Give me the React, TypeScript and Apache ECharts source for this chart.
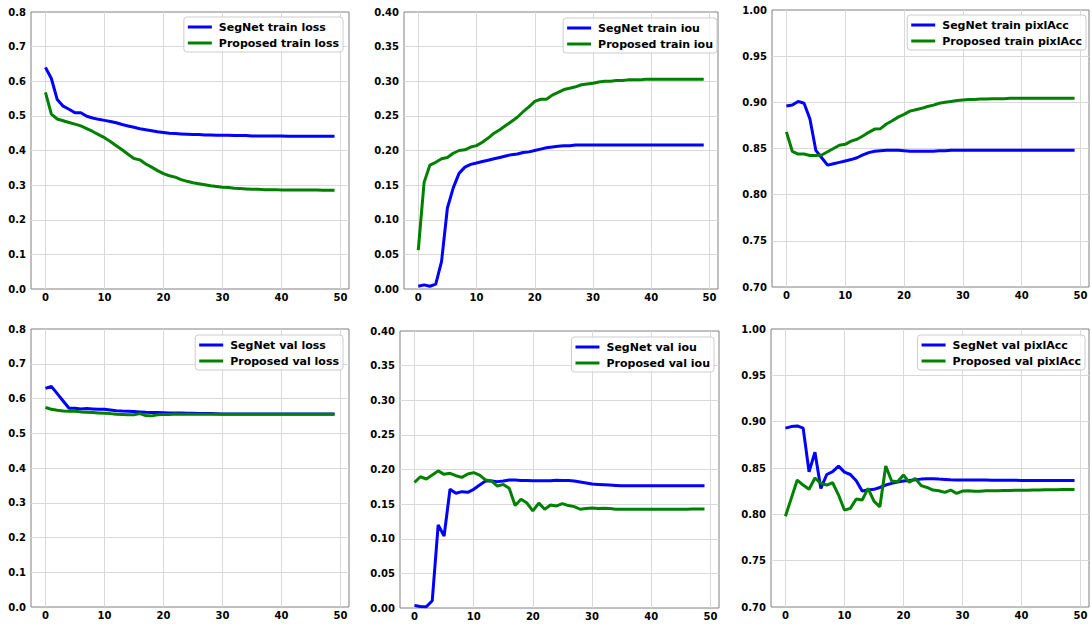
import React, { useEffect, useRef } from 'react';
import * as echarts from 'echarts';

const epochs = [
  0, 1, 2, 3, 4, 5, 6, 7, 8, 9, 10, 11, 12, 13, 14, 15, 16, 17, 18, 19,
  20, 21, 22, 23, 24, 25, 26, 27, 28, 29, 30, 31, 32, 33, 34, 35, 36, 37, 38, 39,
  40, 41, 42, 43, 44, 45, 46, 47, 48, 49,
];

const segTrainLoss = [
  0.640, 0.608, 0.547, 0.528, 0.519, 0.509, 0.509, 0.499, 0.494, 0.490,
  0.487, 0.484, 0.480, 0.475, 0.471, 0.467, 0.463, 0.460, 0.457, 0.454,
  0.452, 0.450, 0.449, 0.448, 0.447, 0.446, 0.446, 0.445, 0.445, 0.444,
  0.444, 0.444, 0.443, 0.443, 0.443, 0.442, 0.442, 0.442, 0.442, 0.442,
  0.442, 0.441, 0.441, 0.441, 0.441, 0.441, 0.441, 0.441, 0.441, 0.441,
];
const propTrainLoss = [
  0.568, 0.505, 0.491, 0.486, 0.481, 0.476, 0.471, 0.463, 0.455, 0.446,
  0.437, 0.426, 0.414, 0.402, 0.389, 0.377, 0.373, 0.361, 0.352, 0.342,
  0.333, 0.327, 0.323, 0.316, 0.311, 0.307, 0.304, 0.301, 0.298, 0.296,
  0.294, 0.293, 0.291, 0.290, 0.289, 0.288, 0.288, 0.287, 0.287, 0.287,
  0.286, 0.286, 0.286, 0.286, 0.286, 0.286, 0.286, 0.285, 0.285, 0.285,
];
const segTrainIou = [
  0.004, 0.006, 0.004, 0.007, 0.040, 0.117, 0.146, 0.167, 0.176, 0.180,
  0.182, 0.184, 0.186, 0.188, 0.190, 0.192, 0.194, 0.195, 0.197, 0.198,
  0.200, 0.202, 0.204, 0.205, 0.206, 0.207, 0.207, 0.208, 0.208, 0.208,
  0.208, 0.208, 0.208, 0.208, 0.208, 0.208, 0.208, 0.208, 0.208, 0.208,
  0.208, 0.208, 0.208, 0.208, 0.208, 0.208, 0.208, 0.208, 0.208, 0.208,
];
const propTrainIou = [
  0.056, 0.154, 0.179, 0.183, 0.188, 0.190, 0.196, 0.200, 0.201, 0.205,
  0.207, 0.212, 0.218, 0.225, 0.230, 0.236, 0.242, 0.248, 0.256, 0.263,
  0.271, 0.274, 0.274, 0.280, 0.284, 0.288, 0.290, 0.292, 0.295, 0.296,
  0.297, 0.299, 0.300, 0.300, 0.301, 0.301, 0.302, 0.302, 0.302, 0.303,
  0.303, 0.303, 0.303, 0.303, 0.303, 0.303, 0.303, 0.303, 0.303, 0.303,
];
const segTrainAcc = [
  0.896, 0.897, 0.901, 0.899, 0.882, 0.848, 0.840, 0.832, 0.8335, 0.835,
  0.8365, 0.838, 0.840, 0.843, 0.8455, 0.847, 0.8475, 0.848, 0.848, 0.848,
  0.8475, 0.847, 0.847, 0.847, 0.847, 0.847, 0.8475, 0.8475, 0.848, 0.848,
  0.848, 0.848, 0.848, 0.848, 0.848, 0.848, 0.848, 0.848, 0.848, 0.848,
  0.848, 0.848, 0.848, 0.848, 0.848, 0.848, 0.848, 0.848, 0.848, 0.848,
];
const propTrainAcc = [
  0.868, 0.847, 0.844, 0.844, 0.8425, 0.8425, 0.843, 0.8465, 0.850, 0.8535,
  0.8545, 0.858, 0.860, 0.8635, 0.8675, 0.871, 0.8715, 0.8765, 0.880, 0.884,
  0.887, 0.8905, 0.892, 0.8935, 0.8955, 0.897, 0.899, 0.900, 0.901, 0.902,
  0.9025, 0.903, 0.903, 0.9035, 0.9035, 0.904, 0.904, 0.904, 0.9045, 0.9045,
  0.9045, 0.9045, 0.9045, 0.9045, 0.9045, 0.9045, 0.9045, 0.9045, 0.9045, 0.9045,
];
const segValLoss = [
  0.629, 0.635, 0.614, 0.593, 0.572, 0.572, 0.570, 0.571, 0.570, 0.569,
  0.569, 0.567, 0.565, 0.564, 0.5635, 0.5625, 0.5615, 0.5605, 0.560, 0.5595,
  0.559, 0.5585, 0.558, 0.558, 0.5575, 0.5575, 0.557, 0.557, 0.5565, 0.556,
  0.5555, 0.5555, 0.5555, 0.5555, 0.5555, 0.5555, 0.5555, 0.5555, 0.5555, 0.5555,
  0.5555, 0.5555, 0.5555, 0.5555, 0.5555, 0.5555, 0.5555, 0.5555, 0.5555, 0.5555,
];
const propValLoss = [
  0.574, 0.569, 0.566, 0.564, 0.563, 0.563, 0.5615, 0.5605, 0.5595, 0.5585,
  0.5575, 0.5565, 0.5545, 0.554, 0.553, 0.553, 0.5565, 0.551, 0.550, 0.553,
  0.554, 0.554, 0.5555, 0.555, 0.555, 0.555, 0.555, 0.555, 0.555, 0.555,
  0.555, 0.555, 0.555, 0.555, 0.555, 0.555, 0.555, 0.555, 0.555, 0.555,
  0.5545, 0.5545, 0.5545, 0.5545, 0.5545, 0.5545, 0.5545, 0.5545, 0.5545, 0.5545,
];
const segValIou = [
  0.0037, 0.0023, 0.0019, 0.0105, 0.120, 0.104, 0.1714, 0.1657, 0.168, 0.167,
  0.1714, 0.1777, 0.1834, 0.1834, 0.1825, 0.1834, 0.1849, 0.1849, 0.1842, 0.1842,
  0.1838, 0.1838, 0.1838, 0.1838, 0.1845, 0.1842, 0.1842, 0.1834, 0.182, 0.1805,
  0.179, 0.1785, 0.178, 0.1775, 0.177, 0.1765, 0.1765, 0.1765, 0.1765, 0.1765,
  0.1765, 0.1765, 0.1765, 0.1765, 0.1765, 0.1765, 0.1765, 0.1765, 0.1765, 0.1765,
];
const propValIou = [
  0.1815, 0.1895, 0.1863, 0.192, 0.198, 0.193, 0.1945, 0.191, 0.1887, 0.1935,
  0.1955, 0.192, 0.185, 0.1835, 0.176, 0.1785, 0.173, 0.148, 0.157, 0.1515,
  0.1402, 0.1515, 0.1426, 0.1488, 0.1474, 0.1507, 0.1479, 0.1464, 0.1426, 0.1436,
  0.1445, 0.1436, 0.144, 0.1436, 0.1426, 0.1425, 0.1425, 0.1425, 0.1425, 0.1425,
  0.1425, 0.1425, 0.1425, 0.1425, 0.1425, 0.1425, 0.1425, 0.1428, 0.1428, 0.1428,
];
const segValAcc = [
  0.893, 0.8947, 0.8954, 0.893, 0.846, 0.867, 0.828, 0.843, 0.846, 0.852,
  0.8455, 0.843, 0.8363, 0.8251, 0.8262, 0.827, 0.829, 0.8316, 0.8334, 0.8348,
  0.8359, 0.8366, 0.8373, 0.838, 0.8384, 0.8384, 0.838, 0.8377, 0.8373, 0.837,
  0.837, 0.837, 0.837, 0.837, 0.837, 0.8368, 0.8368, 0.8368, 0.8368, 0.8368,
  0.8366, 0.8366, 0.8366, 0.8366, 0.8366, 0.8366, 0.8366, 0.8366, 0.8366, 0.8366,
];
const propValAcc = [
  0.798, 0.8175, 0.837, 0.8316, 0.827, 0.8392, 0.8334, 0.8316, 0.8341, 0.8208,
  0.8046, 0.8064, 0.8165, 0.8154, 0.828, 0.8143, 0.8081, 0.8522, 0.836, 0.8352,
  0.8424, 0.8345, 0.8388, 0.831, 0.829, 0.8262, 0.8255, 0.8237, 0.8262, 0.8226,
  0.8251, 0.8255, 0.8248, 0.8248, 0.8255, 0.8255, 0.8255, 0.8258, 0.8258, 0.826,
  0.826, 0.826, 0.8262, 0.8262, 0.8265, 0.8265, 0.8265, 0.8268, 0.8268, 0.8268,
];

const legendNames = [
  ['SegNet train loss', 'Proposed train loss'],
  ['SegNet train iou', 'Proposed train iou'],
  ['SegNet train pixlAcc', 'Proposed train pixlAcc'],
  ['SegNet val loss', 'Proposed val loss'],
  ['SegNet val iou', 'Proposed val iou'],
  ['SegNet val pixlAcc', 'Proposed val pixlAcc'],
];

const panels = [
  { seg: segTrainLoss, prop: propTrainLoss, yMin: 0, yMax: 0.8, yStep: 0.1, dec: 1,
    grid: { left: 31, top: 12, width: 318, height: 277 }, legend: { right: 749, top: 17 } },
  { seg: segTrainIou, prop: propTrainIou, yMin: 0, yMax: 0.4, yStep: 0.05, dec: 2,
    grid: { left: 404, top: 12, width: 314, height: 277 }, legend: { right: 375, top: 18 } },
  { seg: segTrainAcc, prop: propTrainAcc, yMin: 0.7, yMax: 1.0, yStep: 0.05, dec: 2,
    grid: { left: 772, top: 10, width: 319, height: 277 }, legend: { right: 6, top: 15 } },
  { seg: segValLoss, prop: propValLoss, yMin: 0, yMax: 0.8, yStep: 0.1, dec: 1,
    grid: { left: 31, top: 329, width: 318, height: 278 }, legend: { right: 749, top: 335 } },
  { seg: segValIou, prop: propValIou, yMin: 0, yMax: 0.4, yStep: 0.05, dec: 2,
    grid: { left: 400, top: 331, width: 319, height: 277 }, legend: { right: 378, top: 337 } },
  { seg: segValAcc, prop: propValAcc, yMin: 0.7, yMax: 1.0, yStep: 0.05, dec: 2,
    grid: { left: 771, top: 329, width: 320, height: 278 }, legend: { right: 7, top: 335 } },
];

const FONT = 'DejaVu Sans';
const SEG_COLOR = '#0000ff';
const PROP_COLOR = '#008000';

export default function App() {
  const ref = useRef<HTMLDivElement>(null);

  useEffect(() => {
    if (!ref.current) return;
    const chart = echarts.init(ref.current, null, { renderer: 'svg' });

    const labelStyle = { fontFamily: FONT, fontWeight: 'bold' as const, fontSize: 10, color: '#000' };
    const splitStyle = { show: true, showMinLine: false, showMaxLine: false, lineStyle: { color: '#d9d9d9', width: 1 } };

    const option: any = {
      animation: false,
      backgroundColor: '#ffffff',
      grid: panels.map((p) => ({
        ...p.grid,
        show: true,
        borderColor: '#808080',
        borderWidth: 1,
        backgroundColor: 'transparent',
        containLabel: false,
      })),
      xAxis: panels.map((p, i) => ({
        type: 'value',
        gridIndex: i,
        min: -2.45,
        max: 51.45,
        splitNumber: 5,
        axisLine: { show: false },
        axisTick: { show: false },
        axisLabel: {
          ...labelStyle,
          margin: 3,
          formatter: (v: number) => (Math.abs(v % 10) < 1e-9 ? String(Math.round(v)) : ''),
        },
        splitLine: splitStyle,
      })),
      yAxis: panels.map((p, i) => ({
        type: 'value',
        gridIndex: i,
        min: p.yMin,
        max: p.yMax,
        interval: p.yStep,
        axisLine: { show: false },
        axisTick: { show: false },
        axisLabel: {
          ...labelStyle,
          margin: 5,
          formatter: (v: number) => v.toFixed(p.dec),
        },
        splitLine: splitStyle,
      })),
      legend: panels.map((p, i) => ({
        data: legendNames[i],
        orient: 'vertical',
        right: p.legend.right,
        top: p.legend.top,
        icon: 'rect',
        itemWidth: 24,
        itemHeight: 3,
        itemGap: 2,
        padding: [3, 4, 2, 4],
        backgroundColor: 'rgba(255,255,255,0.8)',
        borderColor: '#cccccc',
        borderWidth: 1,
        borderRadius: 3,
        selectedMode: false,
        textStyle: {
          fontFamily: FONT,
          fontWeight: 'bold',
          fontSize: 11,
          color: '#000',
          lineHeight: 14,
          padding: [0, 0, 0, 2],
        },
      })),
      series: panels.flatMap((p, i) => [
        {
          name: legendNames[i][0],
          type: 'line',
          xAxisIndex: i,
          yAxisIndex: i,
          data: epochs.map((e, k) => [e, p.seg[k]]),
          showSymbol: false,
          symbol: 'none',
          color: SEG_COLOR,
          lineStyle: { color: SEG_COLOR, width: 3 },
        },
        {
          name: legendNames[i][1],
          type: 'line',
          xAxisIndex: i,
          yAxisIndex: i,
          data: epochs.map((e, k) => [e, p.prop[k]]),
          showSymbol: false,
          symbol: 'none',
          color: PROP_COLOR,
          lineStyle: { color: PROP_COLOR, width: 3 },
        },
      ]),
    };

    chart.setOption(option);
    return () => chart.dispose();
  }, []);

  return (
    <div
      ref={ref}
      style={{ position: 'absolute', left: 0, top: 0, width: 1092, height: 626, background: '#fff' }}
    />
  );
}
